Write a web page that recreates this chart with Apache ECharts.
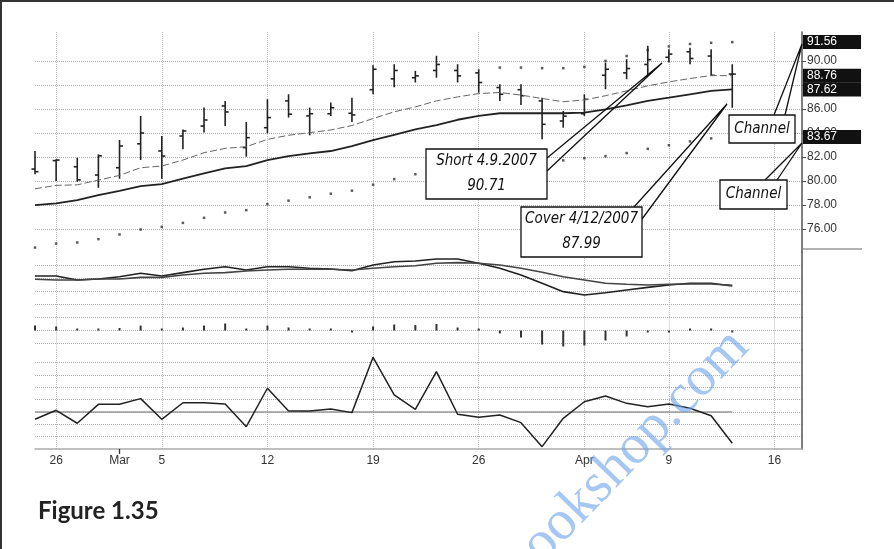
<!DOCTYPE html>
<html>
<head>
<meta charset="utf-8">
<script src="https://cdn.jsdelivr.net/npm/echarts@6/dist/echarts.min.js"></script>
<style>
html, body { margin: 0; padding: 0; background: #fff; }
#wrap { position: relative; width: 894px; height: 549px; }
#chart { width: 894px; height: 549px; }
.frame {
  position: absolute; left: 0; top: 0; width: 894px; height: 549px;
  border-left: 2px solid #333; border-top: 2px solid #333;
  box-sizing: border-box; pointer-events: none;
}
</style>
</head>
<body>
<div id="wrap">
  <div id="chart"></div>
  <div class="frame"></div>
</div>
<script>
// trading days (2007), last three are empty space on the axis
const days = ['2/23', '2/26', '2/27', '2/28', '3/1', '3/2', '3/5', '3/6', '3/7', '3/8', '3/9',
  '3/12', '3/13', '3/14', '3/15', '3/16', '3/19', '3/20', '3/21', '3/22', '3/23',
  '3/26', '3/27', '3/28', '3/29', '3/30', '4/2', '4/3', '4/4', '4/5', '4/9',
  '4/10', '4/11', '4/12', '4/13', '4/16', '4/17']
const tickDays = ['2/26', '3/1', '3/5', '3/12', '3/19', '3/26', '4/2', '4/9', '4/16']
const tickText = ['26', 'Mar', '5', '12', '19', '26', 'Apr', '9', '16']
const gridDays = ['2/26', '3/5', '3/12', '3/19', '3/26', '4/2', '4/9', '4/16']
const priceTicks = [76, 78, 80, 82, 84, 86, 88, 90]

const open = [81.0, 81.7, 81.19, 80.5, 81.11, 83.1, 82.5, 83.75, 84.58, 86.25, 82.78, 84.44,
  86.67, 85.42, 85.6, 85.64, 87.6, 88.5, 88.6, 89.2, 89.2, 89.0, 87.78, 87.6, 86.67, 85.0,
  85.6, 88.8, 89.0, 89.7, 90.3, 90.75, 90.4, 88.9]
const high = [82.5, 81.81, 81.94, 82.22, 83.42, 85.42, 83.75, 84.3, 86.11, 86.67, 84.92, 86.81,
  87.22, 86.11, 86.53, 86.94, 89.64, 89.72, 89.17, 90.42, 89.72, 89.3, 88.06, 88.06, 86.94, 85.83,
  87.22, 89.86, 90.14, 91.25, 90.97, 91.1, 90.97, 89.72]
const low = [80.56, 80.0, 79.94, 79.44, 80.19, 81.75, 80.19, 82.64, 84.03, 84.58, 82.03, 83.97,
  85.28, 83.8, 85.42, 84.92, 87.22, 87.8, 88.2, 88.6, 88.2, 87.36, 86.67, 86.33, 83.47, 84.44,
  85.42, 87.64, 88.47, 88.75, 89.86, 89.72, 88.8, 86.1]
const close = [80.78, 81.75, 80.1, 82.1, 82.92, 84.0, 82.08, 84.17, 85.08, 85.75, 83.61, 85.28,
  85.56, 85.6, 86.1, 85.5, 89.3, 89.2, 88.75, 89.7, 88.75, 88.2, 87.22, 87.1, 84.72, 85.4,
  86.8, 89.3, 89.36, 90.1, 90.56, 90.2, 88.8, 88.9]
const maFast = [79.36, 79.64, 79.69, 80.08, 80.47, 81.11, 81.25, 81.75, 82.36, 82.72, 82.86, 83.47,
  83.81, 84.03, 84.25, 84.62, 85.2, 85.76, 86.17, 86.67, 87.0, 87.28, 87.37, 87.15, 86.87, 86.6,
  86.75, 87.1, 87.5, 87.92, 88.25, 88.53, 88.78, 88.76]
const maSlow = [78.0, 78.14, 78.41, 78.83, 79.19, 79.58, 79.74, 80.21, 80.63, 81.05, 81.24, 81.74,
  82.07, 82.3, 82.5, 82.9, 83.4, 83.85, 84.3, 84.65, 85.1, 85.42, 85.64, 85.64, 85.64, 85.64,
  85.69, 85.97, 86.3, 86.67, 86.94, 87.22, 87.5, 87.62]
const chanUpper = [null, null, null, null, null, null, null, null, null, null, null, null,
  null, null, null, null, null, null, null, null, null, null, 89.44, 89.44, 89.39, 89.39,
  89.5, 90.0, 90.4, 90.9, 91.2, 91.4, 91.5, 91.56]
const chanLower = [74.47, 74.8, 74.89, 75.17, 75.56, 75.97, 76.19, 76.52, 76.94, 77.39, 77.58, 78.08,
  78.37, 78.65, 78.95, 79.2, 79.7, 80.16, 80.57, 80.9, 81.1, 81.3, 81.4, 81.5, 81.6, 81.72,
  81.9, 82.07, 82.33, 82.68, 82.98, 83.3, 83.55, 83.67]
const macd = [1.15, 1.15, 0.85, 0.92, 1.1, 1.36, 1.15, 1.41, 1.67, 1.87, 1.62, 1.87,
  1.87, 1.75, 1.69, 1.56, 2.0, 2.25, 2.31, 2.46, 2.46, 2.13, 1.75, 1.23, 0.59, -0.05,
  -0.31, -0.13, 0.08, 0.28, 0.46, 0.59, 0.59, 0.38]
const signal = [0.9, 0.85, 0.85, 0.92, 0.92, 1.05, 1.05, 1.23, 1.36, 1.41, 1.54, 1.62,
  1.67, 1.67, 1.67, 1.62, 1.75, 1.87, 1.94, 2.13, 2.18, 2.13, 2.0, 1.75, 1.44, 1.1,
  0.85, 0.59, 0.52, 0.46, 0.52, 0.54, 0.54, 0.44]
const hist = [0.38, 0.31, 0.08, 0.08, 0.19, 0.38, 0.12, 0.23, 0.38, 0.54, 0.15, 0.38,
  0.23, 0.08, 0.08, -0.04, 0.31, 0.46, 0.42, 0.5, 0.23, 0.02, -0.23, -0.54, -1.08, -1.23,
  -1.15, -0.77, -0.46, -0.15, -0.04, 0.08, 0.04, -0.04]
const osc = [-0.6, 0.13, -0.92, 0.61, 0.61, 1.07, -0.6, 0.74, 0.74, 0.64, -1.2, 1.91,
  0.07, 0.07, 0.23, -0.06, 4.41, 1.37, 0.21, 3.25, -0.19, -0.44, -0.25, -0.87, -2.81, -0.52,
  0.82, 1.28, 0.69, 0.42, 0.64, 0.29, -0.31, -2.54]

const tickIdx = tickDays.map((d) => days.indexOf(d))
const gridIdx = gridDays.map((d) => days.indexOf(d))
const lastOf = (arr) => arr[arr.length - 1]
const endValues = [lastOf(chanUpper), lastOf(maFast), lastOf(maSlow), lastOf(chanLower)]
const pairs = (arr) => arr.map((v, i) => [i, v])

const FONT = 'Liberation Sans, Arial, sans-serif'
const HAND = 'italic 15px "DejaVu Sans Condensed", "DejaVu Sans", sans-serif'
const dotted = { type: 'dotted', color: '#aaa', width: 1 }
const vDotted = { type: 'dotted', color: '#bbb', width: 1 }
const axisEdge = { show: true, onZero: false, lineStyle: { color: '#555', width: 1.5 } }
const xMax = 36.3

// hidden x axis that only carries the vertical dotted grid lines
function gridXAxis(gridIndex) {
  return {
    type: 'value',
    gridIndex,
    position: 'bottom',
    min: 0,
    max: xMax,
    axisLine: { show: false, onZero: false },
    axisTick: { show: false, customValues: gridIdx },
    axisLabel: { show: false },
    splitLine: { show: true, lineStyle: vDotted }
  }
}

function yAxisFor(gridIndex, min, max, ticks) {
  return {
    type: 'value',
    gridIndex,
    position: 'right',
    min,
    max,
    axisLine: axisEdge,
    axisTick: { show: false, customValues: ticks },
    axisLabel: { show: false },
    splitLine: { show: true, lineStyle: dotted }
  }
}

function renderBar(params, api) {
  const i = api.value(0)
  const pO = api.coord([i, api.value(1)])
  const pH = api.coord([i, api.value(2)])
  const pL = api.coord([i, api.value(3)])
  const pC = api.coord([i, api.value(4)])
  const st = { stroke: '#222', lineWidth: 1.6 }
  return {
    type: 'group',
    children: [
      { type: 'line', shape: { x1: pH[0], y1: pH[1], x2: pL[0], y2: pL[1] }, style: st },
      { type: 'line', shape: { x1: pO[0] - 3.5, y1: pO[1], x2: pO[0], y2: pO[1] }, style: st },
      { type: 'line', shape: { x1: pC[0], y1: pC[1], x2: pC[0] + 3.5, y2: pC[1] }, style: st }
    ]
  }
}

// callout boxes and pointers (page layout, in pixels)
function callout(box, lines, pointer) {
  const els = [
    {
      type: 'polyline',
      z: 100,
      shape: { points: pointer },
      style: { stroke: '#111', lineWidth: 1.3, fill: null }
    },
    {
      type: 'rect',
      z: 101,
      shape: { x: box[0], y: box[1], width: box[2], height: box[3] },
      style: { fill: '#fff', stroke: '#111', lineWidth: 1.3 }
    }
  ]
  lines.forEach((t, k) => {
    els.push({
      type: 'text',
      z: 102,
      x: box[0] + box[2] / 2,
      y: box[1] + (box[3] / (lines.length * 2)) * (2 * k + 1),
      style: { text: t, font: HAND, fill: '#111', align: 'center', verticalAlign: 'middle' }
    })
  })
  return els
}

const graphics = [
  ...callout([426, 149, 121, 50], ['Short 4.9.2007', '90.71'], [[547, 158], [662, 63], [547, 171]]),
  ...callout([521, 207, 121, 50], ['Cover 4/12/2007', '87.99'], [[634, 207], [727, 104], [642, 219]]),
  ...callout([729, 115, 66, 28], ['Channel'], [[774, 115], [802, 44], [785, 115]]),
  ...callout([720, 180, 67, 29], ['Channel'], [[765, 180], [802, 143], [777, 180]]),
  {
    type: 'line',
    shape: { x1: 803, y1: 249, x2: 862, y2: 249 },
    style: { stroke: '#999', lineWidth: 1.5 }
  },
  {
    type: 'text',
    z: 200,
    x: 760,
    y: 358,
    rotation: (46 * Math.PI) / 180,
    style: {
      text: 'www.ebookshop.com',
      font: '56px "Liberation Serif", "DejaVu Serif", serif',
      fill: 'rgba(112, 164, 232, 0.62)',
      align: 'right',
      verticalAlign: 'bottom'
    }
  }
]

const chart = echarts.init(document.getElementById('chart'))

chart.setOption({
  animation: false,
  backgroundColor: '#fff',
  title: {
    text: 'Figure 1.35',
    left: 33,
    top: 494,
    textStyle: { fontSize: 24, fontWeight: 'bold', fontFamily: 'Lato, "Open Sans", sans-serif', color: '#222' }
  },
  grid: [
    { left: 35, right: 92, top: 32, height: 220 },
    { left: 35, right: 92, top: 252, height: 65.5 },
    { left: 35, right: 92, top: 317.5, height: 32.5 },
    { left: 35, right: 92, top: 350, height: 99 }
  ],
  xAxis: [
    gridXAxis(0),
    gridXAxis(1),
    gridXAxis(2),
    {
      // date axis under the oscillator pane; only "Mar" gets a tick
      type: 'value',
      gridIndex: 3,
      position: 'bottom',
      min: 0,
      max: xMax,
      axisLine: { show: true, onZero: false, lineStyle: { color: '#aaa', width: 1.5 } },
      axisTick: { show: true, customValues: [days.indexOf('3/1')], length: 5, lineStyle: { color: '#333', width: 1.3 } },
      axisLabel: {
        show: true,
        customValues: tickIdx,
        margin: 6,
        color: '#333',
        fontSize: 12,
        fontFamily: FONT,
        formatter: (v) => {
          const k = tickIdx.indexOf(Math.round(v))
          return k >= 0 ? tickText[k] : ''
        }
      },
      splitLine: { show: false }
    },
    gridXAxis(3)
  ],
  yAxis: [
    {
      type: 'value',
      gridIndex: 0,
      position: 'right',
      min: 74.1,
      max: 92.4,
      axisLine: axisEdge,
      axisTick: { show: true, customValues: priceTicks, length: 4, lineStyle: { color: '#555' } },
      axisLabel: {
        customValues: priceTicks,
        margin: 5,
        color: '#333',
        fontSize: 12,
        fontFamily: FONT,
        formatter: (v) => v.toFixed(2)
      },
      splitLine: { show: true, lineStyle: dotted }
    },
    {
      type: 'value',
      gridIndex: 0,
      position: 'right',
      min: 74.1,
      max: 92.4,
      z: 5,
      axisLine: { show: false, onZero: false },
      axisTick: { show: false },
      axisLabel: {
        customValues: endValues,
        margin: 1,
        color: '#fff',
        fontSize: 12,
        fontFamily: FONT,
        backgroundColor: '#111',
        padding: [1, 24, 1, 4],
        lineHeight: 12,
        formatter: (v) => v.toFixed(2)
      },
      splitLine: { show: false }
    },
    yAxisFor(1, -2.04, 3, [-2, -1, 0, 1, 2]),
    yAxisFor(2, -1.5, 1, [-1, 0]),
    yAxisFor(3, -3, 5, [-2, -1, 0, 1, 2, 3, 4])
  ],
  graphic: graphics,
  series: [
    {
      type: 'custom',
      name: 'Price',
      xAxisIndex: 0,
      yAxisIndex: 0,
      renderItem: renderBar,
      encode: { x: 0, y: [1, 2, 3, 4] },
      data: open.map((o, i) => [i, o, high[i], low[i], close[i]]),
      z: 3
    },
    {
      type: 'line',
      name: 'MA fast',
      xAxisIndex: 0,
      yAxisIndex: 0,
      data: pairs(maFast),
      symbol: 'none',
      lineStyle: { color: '#666', width: 1, type: [7, 3] }
    },
    {
      type: 'line',
      name: 'MA slow',
      xAxisIndex: 0,
      yAxisIndex: 0,
      data: pairs(maSlow),
      symbol: 'none',
      lineStyle: { color: '#222', width: 1.8 }
    },
    {
      type: 'scatter',
      name: 'Channel upper',
      xAxisIndex: 0,
      yAxisIndex: 0,
      data: pairs(chanUpper).filter((p) => p[1] != null),
      symbol: 'rect',
      symbolSize: 2.5,
      itemStyle: { color: '#333' }
    },
    {
      type: 'scatter',
      name: 'Channel lower',
      xAxisIndex: 0,
      yAxisIndex: 0,
      data: pairs(chanLower),
      symbol: 'rect',
      symbolSize: 2.5,
      itemStyle: { color: '#333' }
    },
    {
      type: 'line',
      name: 'MACD',
      xAxisIndex: 1,
      yAxisIndex: 2,
      data: pairs(macd),
      symbol: 'none',
      lineStyle: { color: '#222', width: 1.6 }
    },
    {
      type: 'line',
      name: 'Signal',
      xAxisIndex: 1,
      yAxisIndex: 2,
      data: pairs(signal),
      symbol: 'none',
      lineStyle: { color: '#444', width: 1.6 }
    },
    {
      type: 'bar',
      name: 'Histogram',
      xAxisIndex: 2,
      yAxisIndex: 3,
      data: pairs(hist),
      barWidth: 2,
      barMinHeight: 2,
      itemStyle: { color: '#333' }
    },
    {
      type: 'line',
      name: 'Zero',
      xAxisIndex: 3,
      yAxisIndex: 4,
      data: pairs(osc.map(() => 0)),
      symbol: 'none',
      lineStyle: { color: '#999', width: 1.5 }
    },
    {
      type: 'line',
      name: 'Oscillator',
      xAxisIndex: 3,
      yAxisIndex: 4,
      data: pairs(osc),
      symbol: 'none',
      lineStyle: { color: '#222', width: 1.5 }
    }
  ]
})
</script>
</body>
</html>
